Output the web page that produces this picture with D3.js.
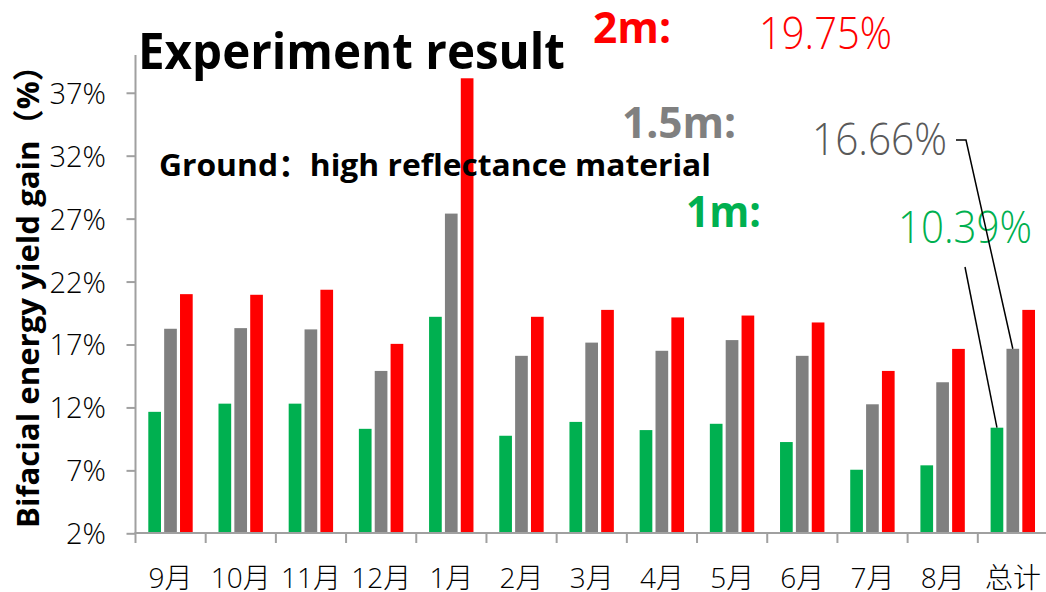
<!DOCTYPE html>
<html>
<head>
<meta charset="utf-8">
<script src="https://cdn.jsdelivr.net/npm/d3@7"></script>
<style>
  body { margin: 0; background: #fff; }
  svg { display: block; }
</style>
</head>
<body>
<svg width="1046" height="592"></svg>
<script>
// data
var months = ["9月", "10月", "11月", "12月", "1月", "2月", "3月", "4月", "5月", "6月", "7月", "8月", "总计"];
var series = ["1m", "1.5m", "2m"];
var gain1m  = [11.65, 12.3, 12.3, 10.3, 19.2, 9.75, 10.85, 10.2, 10.7, 9.25, 7.05, 7.4, 10.39];
var gain15m = [18.25, 18.3, 18.2, 14.9, 27.4, 16.1, 17.15, 16.5, 17.35, 16.1, 12.25, 14.0, 16.66];
var gain2m  = [21.0, 20.95, 21.35, 17.05, 38.15, 19.2, 19.75, 19.15, 19.3, 18.75, 14.9, 16.65, 19.75];
var yTicks  = [2, 7, 12, 17, 22, 27, 32, 37];
var colors  = ["#00B050", "#808080", "#FF0000"];

var svg = d3.select("svg");
var light = "'Open Sans', 'Noto Sans CJK SC', sans-serif";

var x = d3.scaleBand().domain(months).range([135.5, 1048]);
var xs = d3.scaleBand().domain(series).range([12.8, 57.2]).paddingInner(0.2);
var y = d3.scaleLinear().domain([2, 40]).range([533.3, 55]);

var rows = months.map(function(m, i) {
    return { month: m, vals: [gain1m[i], gain15m[i], gain2m[i]] };
});

// bars
svg.append("g").selectAll("g")
    .data(rows).enter().append("g")
    .attr("transform", d => "translate(" + x(d.month) + ",0)")
    .selectAll("rect")
    .data(d => d.vals.map((v, k) => ({ key: series[k], v: v, c: colors[k] })))
    .enter().append("rect")
    .attr("x", d => xs(d.key))
    .attr("width", xs.bandwidth())
    .attr("y", d => y(d.v))
    .attr("height", d => y(2) - y(d.v))
    .attr("fill", d => d.c);

// y axis
var yAx = svg.append("g")
    .attr("transform", "translate(135.5,0)")
    .call(d3.axisLeft(y).tickValues(yTicks).tickFormat(d => d + "%").tickSize(9).tickPadding(20.5));
yAx.select(".domain").attr("stroke", "#A0A0A0").attr("stroke-width", 2).attr("d", "M0,55V534");
yAx.selectAll(".tick line").attr("stroke", "#A0A0A0").attr("stroke-width", 2);
yAx.selectAll("text").attr("font-family", light).attr("font-weight", 300)
    .attr("font-size", 29).attr("fill", "#000").attr("dy", "0.36em");

// x axis: ticks between the categories, labels in the middle
var xAx = svg.append("g")
    .attr("transform", "translate(0,533)")
    .call(d3.axisBottom(x).tickSize(0));
xAx.select(".domain").attr("stroke", "#A0A0A0").attr("stroke-width", 2).attr("d", "M134.5,0H1046");
xAx.selectAll("text").attr("font-family", light).attr("font-weight", 300)
    .attr("font-size", 28).attr("fill", "#000").attr("y", 55).attr("dy", null);
xAx.selectAll(".bound")
    .data(months).enter().append("line")
    .attr("class", "bound")
    .attr("x1", d => x(d)).attr("x2", d => x(d))
    .attr("y1", 0).attr("y2", 10)
    .attr("stroke", "#A0A0A0").attr("stroke-width", 2);

// texts
function label(t, px, py, size, weight, color, w, fam) {
    var el = svg.append("text")
        .attr("x", px).attr("y", py)
        .attr("font-family", fam || "'Open Sans', 'Noto Sans CJK SC', sans-serif")
        .attr("font-size", size).attr("font-weight", weight)
        .attr("fill", color).text(t);
    if (w) el.attr("textLength", w).attr("lengthAdjust", "spacingAndGlyphs");
    return el;
}
label("Experiment result", 138, 69, 50, 700, "#000", 427);
label("Ground：high reflectance material", 159, 176, 31, 700, "#000", 552);
label("2m:", 593, 42.7, 43, 700, "#FF0000", 78);
label("19.75%", 759, 49, 45, 300, "#FF0000", 133);
label("1.5m:", 622, 138, 43, 700, "#808080", 114);
label("16.66%", 812, 155.3, 45, 300, "#595959", 135);
label("1m:", 686, 226.7, 43, 700, "#00B050", 75);
label("10.39%", 898, 243.3, 45, 300, "#00B050", 134);

svg.append("text")
    .attr("transform", "translate(39,528) rotate(-90)")
    .attr("font-family", "'Open Sans', 'Noto Sans CJK SC', sans-serif")
    .attr("font-size", 31).attr("font-weight", 700).attr("fill", "#000")
    .attr("textLength", 478).attr("lengthAdjust", "spacingAndGlyphs")
    .text("Bifacial energy yield gain（%）");

// leader lines from the total labels to the total bars
var tot = months[months.length - 1];
var line = d3.line();
svg.append("path")
    .attr("fill", "none").attr("stroke", "#000").attr("stroke-width", 1.5)
    .attr("d", line([[956, 140], [966, 140],
        [x(tot) + xs("1.5m") + xs.bandwidth() / 2, y(gain15m[12])]]));
svg.append("path")
    .attr("fill", "none").attr("stroke", "#000").attr("stroke-width", 1.5)
    .attr("d", line([[965, 267],
        [x(tot) + xs("1m") + xs.bandwidth() / 2, y(gain1m[12])]]));
</script>
</body>
</html>
